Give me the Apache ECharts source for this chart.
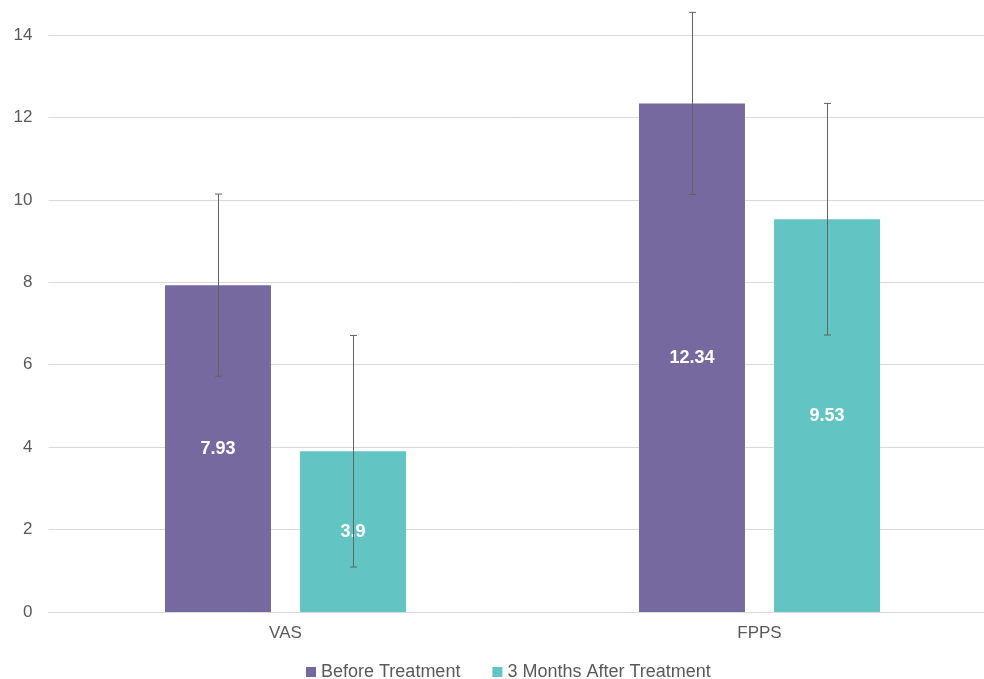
<!DOCTYPE html>
<html>
<head>
<meta charset="utf-8">
<script src="https://cdn.jsdelivr.net/npm/echarts@6/dist/echarts.min.js"></script>
<style>html,body{margin:0;padding:0;background:#fff}#c{width:984px;height:679px}</style>
</head>
<body>
<div id="c"></div>
<script>
var categories = ['VAS', 'FPPS'];
var seriesNames = ['Before Treatment', '3 Months After Treatment'];
var beforeValues = [7.93, 12.34];
var afterValues = [3.9, 9.53];
var beforeErr = [2.21, 2.21];
var afterErr = [2.81, 2.81];
var yTicks = [0, 2, 4, 6, 8, 10, 12, 14];

var COLORS = ['#7569a0', '#62c5c3'];
var BAR_W = 106, GAP = 29;
var FONT = '"Liberation Sans", Arial, sans-serif';

function errSeries(values, errs, dir) {
  return {
    type: 'custom',
    z: 10,
    clip: false,
    silent: true,
    data: values.map(function (v, i) { return [i, v - errs[i], v + errs[i]]; }),
    encode: { x: 0, y: [1, 2] },
    renderItem: function (params, api) {
      var i = api.value(0);
      var lo = api.coord([i, api.value(1)]);
      var hi = api.coord([i, api.value(2)]);
      var x = Math.round(lo[0] + dir * (BAR_W + GAP) / 2) + 0.5;
      var cw = 3.5;
      var st = { stroke: '#636363', lineWidth: 1 };
      return {
        type: 'group',
        children: [
          { type: 'line', shape: { x1: x, y1: lo[1], x2: x, y2: hi[1] }, style: st },
          { type: 'line', shape: { x1: x - cw, y1: hi[1], x2: x + cw, y2: hi[1] }, style: st },
          { type: 'line', shape: { x1: x - cw, y1: lo[1], x2: x + cw, y2: lo[1] }, style: st }
        ]
      };
    }
  };
}

var chart = echarts.init(document.getElementById('c'), null, { renderer: 'canvas' });
chart.setOption({
  animation: false,
  color: COLORS,
  grid: { left: 48.5, width: 948, top: 35, bottom: 67, containLabel: false, outerBoundsMode: 'none' },
  legend: {
    left: 301, top: 658,
    itemWidth: 10, itemHeight: 10, itemGap: 32,
    icon: 'rect',
    data: seriesNames,
    textStyle: { color: '#595959', fontSize: 18, fontFamily: FONT }
  },
  xAxis: {
    type: 'category',
    data: categories,
    axisTick: { show: false },
    axisLine: { lineStyle: { color: '#d9d9d9', width: 1 } },
    axisLabel: { color: '#595959', fontSize: 17, fontFamily: FONT, margin: 13 }
  },
  yAxis: {
    type: 'value',
    min: yTicks[0], max: yTicks[yTicks.length - 1], interval: yTicks[1] - yTicks[0],
    axisLine: { show: false },
    axisTick: { show: false },
    splitLine: { lineStyle: { color: '#d9d9d9', width: 1 } },
    axisLabel: { color: '#595959', fontSize: 17, fontFamily: FONT, margin: 16 }
  },
  series: [
    {
      name: seriesNames[0], type: 'bar', data: beforeValues,
      barWidth: BAR_W, barGap: (GAP / BAR_W * 100).toFixed(1) + '%',
      itemStyle: { color: COLORS[0] },
      label: { show: true, position: 'inside', color: '#fff', fontWeight: 'bold', fontSize: 18, fontFamily: FONT }
    },
    {
      name: seriesNames[1], type: 'bar', data: afterValues,
      barWidth: BAR_W, barGap: (GAP / BAR_W * 100).toFixed(1) + '%',
      itemStyle: { color: COLORS[1] },
      label: { show: true, position: 'inside', color: '#fff', fontWeight: 'bold', fontSize: 18, fontFamily: FONT }
    },
    errSeries(beforeValues, beforeErr, -1),
    errSeries(afterValues, afterErr, 1)
  ]
});
</script>
</body>
</html>
